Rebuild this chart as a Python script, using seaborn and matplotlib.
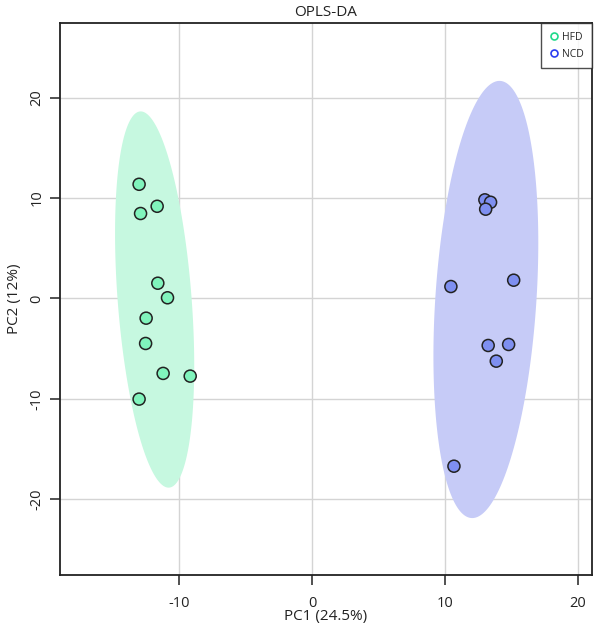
import numpy as np
import pandas as pd
import matplotlib
matplotlib.use("Agg")
import matplotlib.pyplot as plt
from matplotlib.lines import Line2D
import seaborn as sns

# scores
hfd_pc1 = [-13.04, -11.68, -12.93, -11.63, -10.90, -12.51, -12.55, -11.23, -9.19, -13.04]
hfd_pc2 = [11.37, 9.18, 8.46, 1.52, 0.07, -1.96, -4.48, -7.46, -7.73, -10.02]
ncd_pc1 = [13.01, 13.44, 13.07, 10.45, 15.18, 13.26, 14.80, 13.87, 10.68]
ncd_pc2 = [9.82, 9.58, 8.89, 1.19, 1.82, -4.68, -4.58, -6.24, -16.70]
groups = ["HFD", "NCD"]
x_ticks = [-10, 0, 10, 20]
y_ticks = [-20, -10, 0, 10, 20]

point_fill = {"HFD": "#80f4bc", "NCD": "#7e8ff0"}
ellipse_fill = {"HFD": "#c6f8e0", "NCD": "#c6cbf7"}
legend_col = {"HFD": "#1fd98a", "NCD": "#2a3cf0"}

df = pd.DataFrame({
    "PC1": hfd_pc1 + ncd_pc1,
    "PC2": hfd_pc2 + ncd_pc2,
    "group": ["HFD"] * len(hfd_pc1) + ["NCD"] * len(ncd_pc1),
})

sns.set_style("white")
plt.rcParams["font.family"] = ["Open Sans", "DejaVu Sans"]
plt.rcParams["axes.unicode_minus"] = False

fig = plt.figure(figsize=(5.97, 6.26), dpi=100)
ax = fig.add_axes([0.1005, 0.082, 0.8911, 0.8808])


def conf_ellipse(x, y, level_scale=np.sqrt(5.991465), n=200):
    """95% confidence ellipse from sample covariance."""
    pts = np.column_stack([x, y])
    centre = pts.mean(axis=0)
    cov = np.cov(pts, rowvar=False)
    vals, vecs = np.linalg.eigh(cov)
    t = np.linspace(0, 2 * np.pi, n)
    circ = np.column_stack([np.cos(t), np.sin(t)]) * np.sqrt(vals) * level_scale
    return centre + circ @ vecs.T


for g in groups:
    sub = df[df["group"] == g]
    e = conf_ellipse(sub["PC1"].values, sub["PC2"].values)
    ax.fill(e[:, 0], e[:, 1], color=ellipse_fill[g], lw=0, zorder=1)

sns.scatterplot(data=df, x="PC1", y="PC2", hue="group", palette=point_fill,
                s=75, edgecolor="#222222", linewidth=1.1, ax=ax, zorder=3,
                legend=False)

ax.set_xlim(-19.0, 21.08)
ax.set_ylim(-27.5, 27.4)
ax.set_xticks(x_ticks)
ax.set_yticks(y_ticks)
ax.grid(True, color="#d4d4d4", lw=1.0, zorder=0)
ax.set_axisbelow(True)
for s in ax.spines.values():
    s.set_color("#222222")
    s.set_linewidth(1.3)
ax.tick_params(axis="both", direction="out", length=7, width=1.2,
               color="#333333", labelsize=10.5, labelcolor="#222222",
               bottom=True, left=True)
ax.tick_params(axis="x", pad=8)
ax.tick_params(axis="y", pad=4)
plt.setp(ax.get_yticklabels(), rotation=90, va="center")

ax.set_xlabel("PC1 (24.5%)", fontsize=11, color="#222222", labelpad=-1)
ax.set_ylabel("PC2 (12%)", fontsize=11, color="#222222")
ax.yaxis.set_label_coords(-0.072, 0.5)
ax.set_title("OPLS-DA", fontsize=11, color="#222222", pad=5)

handles = [Line2D([], [], marker="o", ls="", markerfacecolor="none",
                  markeredgecolor=legend_col[g], markeredgewidth=1.2,
                  markersize=5, label=g) for g in groups]
leg = ax.legend(handles=handles, loc="upper right", fontsize=7.5,
                frameon=True, fancybox=False, borderaxespad=0,
                handletextpad=0.3, handlelength=0.9, borderpad=0.8,
                labelspacing=0.6)
leg.get_frame().set_edgecolor("#222222")
leg.get_frame().set_linewidth(1.0)

fig.savefig("out.png", dpi=100)
